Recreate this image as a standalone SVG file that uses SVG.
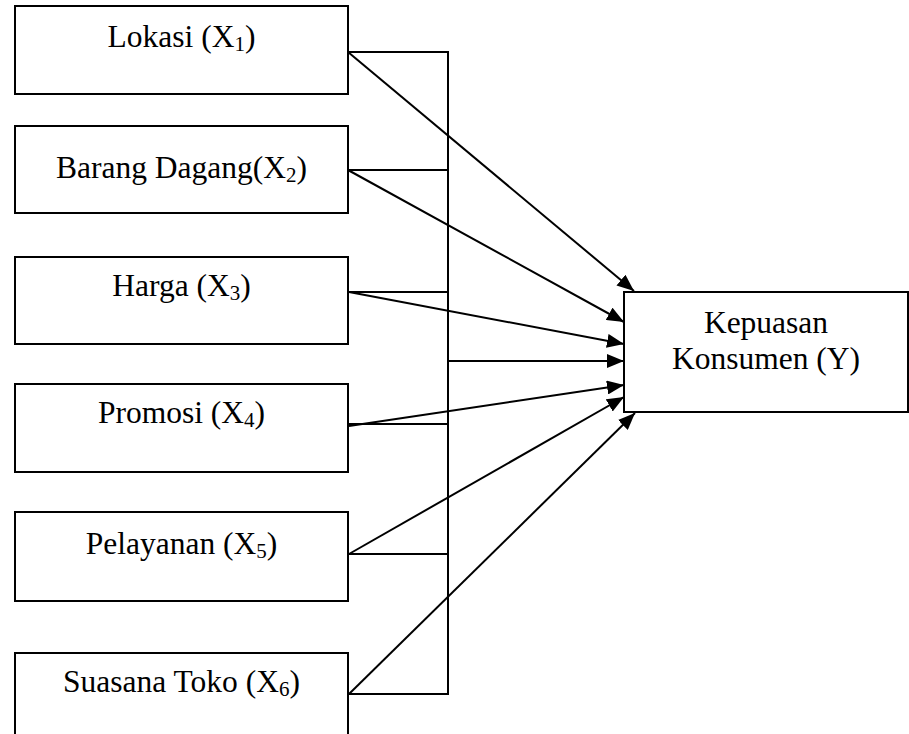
<svg xmlns="http://www.w3.org/2000/svg" width="909" height="734" viewBox="0 0 909 734">
<style>
.box{fill:#fff;stroke:#000;stroke-width:2}
.ln{fill:none;stroke:#000;stroke-width:2}
.ar{fill:none;stroke:#000;stroke-width:2;marker-end:url(#ah)}
text{font-family:"Liberation Serif","Times New Roman",serif;font-size:31.5px;fill:#000;text-anchor:middle}
.sub{font-size:21px}
</style>
<defs>
<marker id="ah" markerUnits="userSpaceOnUse" markerWidth="18" markerHeight="14" refX="17" refY="7" orient="auto">
<path d="M0,0 L17,7 L0,14 Z" fill="#000"/>
</marker>
</defs>
<rect width="909" height="734" fill="#fff"/>
<g id="connectors">
<polyline class="ln" points="348,52 448,52 448,694 348,694"/>
<line class="ln" x1="348" y1="170" x2="448" y2="170"/>
<line class="ln" x1="348" y1="292" x2="448" y2="292"/>
<line class="ln" x1="348" y1="424" x2="448" y2="424"/>
<line class="ln" x1="348" y1="554" x2="448" y2="554"/>
<line class="ar" x1="348" y1="52" x2="634" y2="291"/>
<line class="ar" x1="348" y1="170" x2="624" y2="322"/>
<line class="ar" x1="349" y1="292" x2="624" y2="344"/>
<line class="ar" x1="448" y1="361" x2="624" y2="361"/>
<line class="ar" x1="349" y1="426" x2="624" y2="385"/>
<line class="ar" x1="349" y1="554" x2="624" y2="397"/>
<line class="ar" x1="349" y1="694" x2="635" y2="413"/>
</g>
<g id="node-x1">
<rect class="box" x="15" y="6" width="333" height="88"/>
<text x="181.5" y="47">Lokasi (X<tspan class="sub" dy="4">1</tspan><tspan dy="-4">)</tspan></text>
</g>
<g id="node-x2">
<rect class="box" x="15" y="126" width="333" height="87"/>
<text x="181.5" y="178">Barang Dagang(X<tspan class="sub" dy="4">2</tspan><tspan dy="-4">)</tspan></text>
</g>
<g id="node-x3">
<rect class="box" x="15" y="257" width="333" height="87"/>
<text x="181.5" y="296">Harga (X<tspan class="sub" dy="4">3</tspan><tspan dy="-4">)</tspan></text>
</g>
<g id="node-x4">
<rect class="box" x="15" y="384" width="333" height="88"/>
<text x="181.5" y="423">Promosi (X<tspan class="sub" dy="4">4</tspan><tspan dy="-4">)</tspan></text>
</g>
<g id="node-x5">
<rect class="box" x="15" y="512" width="333" height="89"/>
<text x="181.5" y="554">Pelayanan (X<tspan class="sub" dy="4">5</tspan><tspan dy="-4">)</tspan></text>
</g>
<g id="node-x6">
<rect class="box" x="15" y="653" width="333" height="90"/>
<text x="181.5" y="692">Suasana Toko (X<tspan class="sub" dy="4">6</tspan><tspan dy="-4">)</tspan></text>
</g>
<g id="node-y">
<rect class="box" x="624" y="292" width="284" height="120"/>
<text x="766" y="333">Kepuasan</text>
<text x="766" y="369">Konsumen (Y)</text>
</g>
</svg>
